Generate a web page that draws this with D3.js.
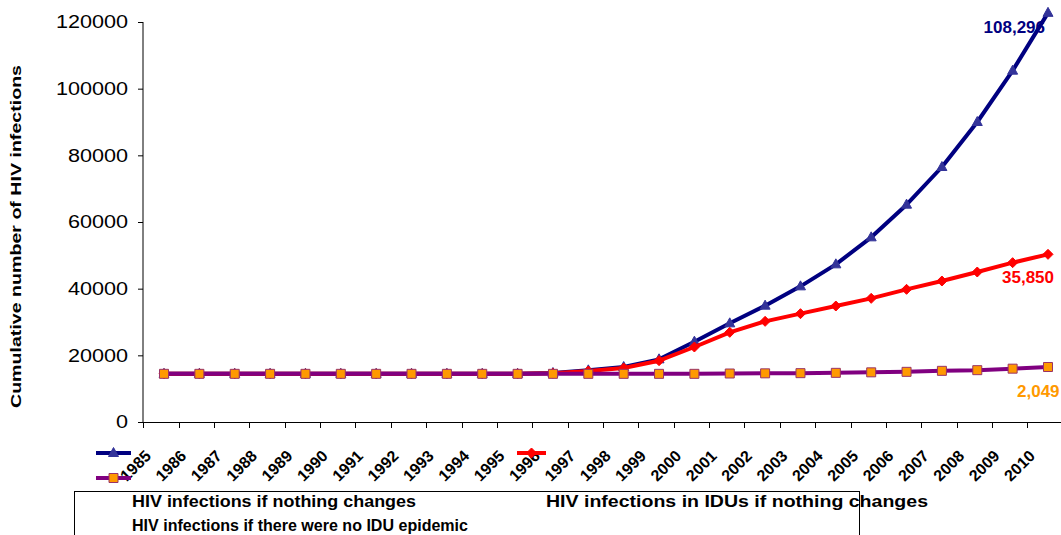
<!DOCTYPE html>
<html>
<head>
<meta charset="utf-8">
<script src="https://cdn.jsdelivr.net/npm/d3@7"></script>
<style>
  body { margin: 0; background: #fff; }
  text { font-family: "Liberation Sans", Arial, sans-serif; }
</style>
</head>
<body>
<div id="chart"></div>
<script>
// data
var years = d3.range(1985, 2011).map(String);
var nothingChanges = [14450, 14450, 14450, 14450, 14450, 14450, 14450, 14450, 14450, 14450, 14450,
  14700, 15500, 16500, 18800, 24100, 29600, 34900, 40700, 47300, 55400, 65200, 76500, 90000, 105400, 122746];
var idusNothingChanges = [14450, 14450, 14450, 14450, 14450, 14450, 14450, 14450, 14450, 14450, 14450,
  14600, 15300, 16200, 18400, 22500, 26900, 30200, 32500, 34800, 37100, 39800, 42300, 45000, 47800, 50300];
var noIduEpidemic = [14450, 14450, 14450, 14450, 14450, 14450, 14450, 14450, 14450, 14450, 14450,
  14450, 14450, 14450, 14450, 14450, 14550, 14600, 14650, 14750, 14900, 15050, 15350, 15550, 16000, 16500];
var yTicks = [0, 20000, 40000, 60000, 80000, 100000, 120000];
var endLabels = ["108,296", "35,850", "2,049"];
var seriesNames = ["HIV infections if nothing changes", "HIV infections in IDUs if nothing changes",
  "HIV infections if there were no IDU epidemic"];

var width = 1061, height = 535;

var svg = d3.select("#chart").append("svg")
    .attr("width", width)
    .attr("height", height);

svg.append("rect").attr("width", width).attr("height", height).attr("fill", "#fff");

// scales
var xBand = d3.scaleBand().domain(years).range([143.3, 1062.7]);
var x = d3.scalePoint().domain(years).range([164, 1048]);
var y = d3.scaleLinear().domain([0, 120000]).range([422, 22]);

// y axis
var yAxis = svg.append("g")
    .attr("transform", "translate(143,0)")
    .call(d3.axisLeft(y).tickValues(yTicks).tickSize(5).tickPadding(10).tickFormat(d3.format("d")));
yAxis.select(".domain").attr("stroke", "#000").attr("d", "M0,22V422");
yAxis.selectAll(".tick line").attr("stroke", "#000");
yAxis.selectAll(".tick text")
    .attr("font-family", "Liberation Sans, Arial, sans-serif")
    .attr("font-size", 18)
    .attr("fill", "#000")
    .each(function() {
      var w = this.getComputedTextLength();
      d3.select(this).attr("textLength", w * 1.2).attr("lengthAdjust", "spacingAndGlyphs");
    });

// x axis line and ticks
svg.append("line")
    .attr("x1", 143).attr("x2", 1061)
    .attr("y1", 422.5).attr("y2", 422.5)
    .attr("stroke", "#000");
svg.selectAll(".xtick")
  .data(years)
  .enter().append("line")
    .attr("class", "xtick")
    .attr("x1", function(d) { return Math.round(xBand(d)) + 0.5; })
    .attr("x2", function(d) { return Math.round(xBand(d)) + 0.5; })
    .attr("y1", 422).attr("y2", 428)
    .attr("stroke", "#000");

// rotated year labels
svg.selectAll(".xlabel")
  .data(years)
  .enter().append("text")
    .attr("class", "xlabel")
    .attr("x", function(d) { return x(d) - 12; })
    .attr("y", 457)
    .attr("transform", function(d) { return "rotate(-45," + (x(d) - 12) + ",457)"; })
    .attr("text-anchor", "end")
    .attr("font-size", 16)
    .attr("font-weight", "bold")
    .text(function(d) { return d; });

// y title
svg.append("text")
    .attr("transform", "translate(21,236.5) rotate(-90)")
    .attr("text-anchor", "middle")
    .attr("font-size", 15)
    .attr("font-weight", "bold")
    .attr("textLength", 343)
    .attr("lengthAdjust", "spacingAndGlyphs")
    .text("Cumulative number of HIV infections");

// lines
var line = d3.line()
    .x(function(d, i) { return x(years[i]); })
    .y(function(d) { return y(d); });

var series = [
  { values: nothingChanges, stroke: "#000080", marker: "triangle", mfill: "#333399", mstroke: "#333399" },
  { values: idusNothingChanges, stroke: "#ff0000", marker: "diamond", mfill: "#ff0000", mstroke: "#ff0000" },
  { values: noIduEpidemic, stroke: "#800080", marker: "square", mfill: "#ff9900", mstroke: "#993366" }
];

function markerPath(type) {
  if (type == "triangle") return "M0,-5.5L5,3.5L-5,3.5Z";
  if (type == "diamond") return "M0,-5L5,0L0,5L-5,0Z";
  return "M-4.5,-4.5H4.5V4.5H-4.5Z";
}

series.forEach(function(s) {
  svg.append("path")
    .datum(s.values)
    .attr("fill", "none")
    .attr("stroke", s.stroke)
    .attr("stroke-width", 4)
    .attr("stroke-linejoin", "round")
    .attr("d", line);

  svg.selectAll(null)
    .data(s.values)
    .enter().append("path")
      .attr("transform", function(d, i) { return "translate(" + x(years[i]) + "," + y(d) + ")"; })
      .attr("d", markerPath(s.marker))
      .attr("fill", s.mfill)
      .attr("stroke", s.mstroke)
      .attr("stroke-width", 1);
});

// end labels
svg.append("text").attr("x", 1045).attr("y", 33).attr("text-anchor", "end")
    .attr("font-size", 17).attr("font-weight", "bold").attr("fill", "#000080").text(endLabels[0]);
svg.append("text").attr("x", 1054).attr("y", 283).attr("text-anchor", "end")
    .attr("font-size", 17).attr("font-weight", "bold").attr("fill", "#ff0000").text(endLabels[1]);
svg.append("text").attr("x", 1017).attr("y", 397)
    .attr("font-size", 17).attr("font-weight", "bold").attr("fill", "#ff9900").text(endLabels[2]);

// legend (keys sit above the box, as in the original)
var keys = [
  { x: 96, y: 453, s: series[0] },
  { x: 517, y: 453, s: series[1] },
  { x: 96, y: 478, s: series[2] }
];
keys.forEach(function(k, i) {
  var w = i == 1 ? 29 : 35;
  svg.append("line")
    .attr("x1", k.x).attr("x2", k.x + w)
    .attr("y1", k.y).attr("y2", k.y)
    .attr("stroke", k.s.stroke).attr("stroke-width", 4);
  svg.append("path")
    .attr("transform", "translate(" + (k.x + w / 2) + "," + k.y + ")")
    .attr("d", markerPath(k.s.marker))
    .attr("fill", k.s.mfill)
    .attr("stroke", k.s.mstroke);
});

svg.append("rect")
    .attr("x", 74.5).attr("y", 491.5)
    .attr("width", 785).attr("height", 60)
    .attr("fill", "none").attr("stroke", "#000");

var legendText = [
  { x: 132, y: 507, t: seriesNames[0], len: 284 },
  { x: 546, y: 507, t: seriesNames[1], len: 382 },
  { x: 132, y: 531, t: seriesNames[2], len: 336 }
];
svg.selectAll(".legtext")
  .data(legendText)
  .enter().append("text")
    .attr("class", "legtext")
    .attr("x", function(d) { return d.x; })
    .attr("y", function(d) { return d.y; })
    .attr("font-size", 17)
    .attr("font-weight", "bold")
    .attr("textLength", function(d) { return d.len; })
    .attr("lengthAdjust", "spacingAndGlyphs")
    .text(function(d) { return d.t; });
</script>
</body>
</html>
